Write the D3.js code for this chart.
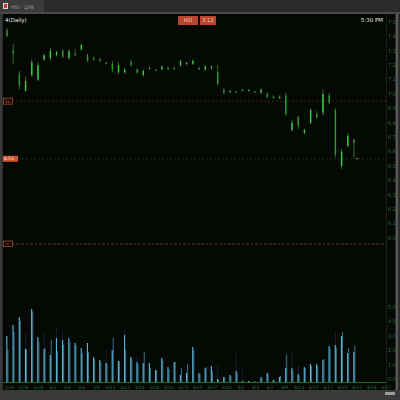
<!DOCTYPE html>
<html>
<head>
<meta charset="utf-8">
<script src="https://cdn.jsdelivr.net/npm/d3@7"></script>
<style>
  html, body { margin: 0; padding: 0; background: #2b2b2b; }
  svg { display: block; }
  text { font-family: "DejaVu Sans", sans-serif; }
</style>
</head>
<body>
<svg id="chart" width="400" height="400"></svg>
<script>
// Daily bars: open / high / low / close
const open  = [7.44,7.30,7.14,7.02,7.13,7.10,7.24,7.25,7.27,7.30,7.25,7.28,7.31,7.27,7.25,7.24,7.22,7.21,7.15,7.15,7.22,7.17,7.13,7.18,7.17,7.17,7.18,7.18,7.20,7.21,7.21,7.18,7.17,7.18,7.15,7.03,7.02,7.02,7.02,7.02,7.02,7.01,7.00,6.98,6.97,6.99,6.75,6.84,6.73,6.80,6.86,6.87,6.99,6.89,6.50,6.64,6.68];
const high  = [7.46,7.35,7.16,7.12,7.24,7.22,7.28,7.32,7.30,7.31,7.31,7.31,7.35,7.28,7.26,7.25,7.22,7.23,7.22,7.18,7.24,7.18,7.17,7.19,7.17,7.20,7.19,7.19,7.24,7.22,7.24,7.19,7.20,7.20,7.20,7.04,7.03,7.02,7.03,7.03,7.02,7.04,7.01,6.99,6.99,7.01,6.82,6.85,6.76,6.90,6.88,7.03,7.01,6.90,6.62,6.73,6.69];
const low   = [7.40,7.21,7.03,7.02,7.12,7.09,7.23,7.23,7.26,7.25,7.24,7.26,7.30,7.22,7.23,7.22,7.21,7.15,7.14,7.14,7.19,7.14,7.12,7.17,7.16,7.17,7.17,7.17,7.19,7.20,7.20,7.17,7.16,7.17,7.06,7.00,7.01,7.01,7.02,7.02,7.01,7.00,6.97,6.97,6.97,6.85,6.74,6.76,6.72,6.79,6.83,6.85,6.93,6.56,6.48,6.63,6.56];
const close = [7.40,7.28,7.06,7.09,7.22,7.20,7.27,7.30,7.29,7.26,7.30,7.27,7.34,7.23,7.24,7.23,7.21,7.17,7.20,7.17,7.20,7.15,7.16,7.18,7.16,7.19,7.18,7.17,7.23,7.22,7.23,7.17,7.19,7.19,7.07,7.01,7.02,7.01,7.03,7.03,7.01,7.03,6.98,6.98,6.98,6.86,6.80,6.78,6.75,6.89,6.84,7.00,6.94,6.58,6.60,6.71,6.66];

// Volume (three line series per day)
const volMain = [3.19,3.96,4.51,2.29,5.07,3.13,2.29,1.88,3.06,2.92,3.06,2.71,2.36,2.71,1.74,1.53,1.32,2.22,1.46,3.26,1.74,1.39,1.32,1.32,0.83,1.67,1.04,1.39,0.49,0.63,2.43,0.63,0.97,1.11,0.21,0.35,0.49,0.76,0.07,0.07,0.05,0.35,0.63,0.14,0.35,0.97,0.97,0.56,1.04,1.25,1.25,1.53,2.50,2.57,3.19,2.01,2.08];
const volSide = [2.22,3.47,4.24,2.29,4.90,2.78,2.36,2.92,2.15,2.60,2.85,2.57,2.01,2.08,1.60,1.40,1.25,3.06,1.46,2.22,1.60,1.25,2.08,0.97,0.83,1.50,0.90,1.39,0.97,1.25,2.20,0.55,1.04,0.76,0.15,0.35,0.40,0.60,0.05,0.05,0.03,0.30,0.55,0.10,0.42,1.88,0.80,0.45,0.95,1.11,1.11,1.60,2.30,2.40,3.47,2.36,2.50];
const volPeak = [0,0,0,3.40,0,0,3.40,0,3.75,3.61,0,0,0,0,0,0,2.22,0,0,3.82,0,1.74,0,0,0,0,0,0,0,0,0,0,0,0,1.18,0,0,2.01,0.90,0,0,0,0,0,0,2.22,2.22,1.18,0,1.53,0,0,2.71,3.47,0,0,2.71];

// Axis tick labels
const priceTicks = [7.5,7.4,7.3,7.2,7.1,7.0,6.9,6.8,6.7,6.6,6.5,6.4,6.3,6.2,6.1,6.0];
const volTicks = [0,1,2,3,4,5];
const dateLabels = ["2/24","2/26","2/28","3/2","3/4","3/6","3/9","3/11","3/13","3/16","3/18","3/20","3/23","3/25","3/27","3/30","4/1","4/3","4/7","4/9","4/13","4/15","4/17","4/20","4/22","4/24","4/27"];

// Reference levels
const lastPrice = 6.55;
const alertLevel = 6.95;

const svg = d3.select("#chart");
const W = 400, H = 400;
const plotL = 3, plotR = 386, plotT = 14, plotB = 390;
const priceBottom = 244, volBase = 382;

// frame
svg.append("rect").attr("width", W).attr("height", H).attr("fill", "#2b2b2b");
svg.append("rect").attr("x", 0).attr("y", 0).attr("width", 44).attr("height", 12).attr("fill", "#3b3b3b");
svg.append("rect").attr("x", 3).attr("y", 3).attr("width", 5).attr("height", 6).attr("fill", "#d8d8d8");
svg.append("rect").attr("x", 4).attr("y", 4).attr("width", 3).attr("height", 4).attr("fill", "#c0392b");
svg.append("text").attr("x", 11).attr("y", 8.5).attr("font-size", 5).attr("fill", "#9a9a9a").text("HSI · 日线");
svg.append("rect").attr("x", 0).attr("y", 12).attr("width", W).attr("height", 2).attr("fill", "#4a4a4a");

// plot background
svg.append("rect").attr("x", plotL).attr("y", plotT).attr("width", 395 - plotL).attr("height", plotB - plotT).attr("fill", "#040904");
svg.append("line").attr("x1", plotR + 0.5).attr("x2", plotR + 0.5).attr("y1", plotT).attr("y2", plotB).attr("stroke", "#1c1f1c");
svg.append("rect").attr("x", 396).attr("y", plotT).attr("width", 2).attr("height", plotB - plotT).attr("fill", "#5a5a5a");
svg.append("rect").attr("x", 0).attr("y", plotT).attr("width", 2).attr("height", plotB - plotT).attr("fill", "#3a3a3a");

// bottom bar and scroll thumb
svg.append("rect").attr("x", 0).attr("y", plotB).attr("width", W).attr("height", H - plotB).attr("fill", "#3a3a3a");
svg.append("rect").attr("x", 385).attr("y", 392).attr("width", 10).attr("height", 3).attr("fill", "#9c9c9c");

// scales
const n = close.length;
const x = d3.scaleLinear().domain([0, n - 1]).range([7, 354]);
const y = d3.scaleLinear().domain([7.5, 6.0]).range([22, 238]);
const yv = d3.scaleLinear().domain([0, 5]).range([volBase, volBase - 72]);
const xLab = d3.scaleLinear().domain([0, dateLabels.length - 1]).range([9, 386]);

// price axis labels
svg.append("g").selectAll("text").data(priceTicks).join("text")
  .attr("x", 388).attr("y", d => y(d)).attr("dy", "0.35em")
  .attr("font-size", 5).attr("fill", "#2f6e38").text(d => d.toFixed(1));

// volume axis labels
svg.append("g").selectAll("text").data(volTicks).join("text")
  .attr("x", 388).attr("y", d => yv(d) - 1)
  .attr("font-size", 5).attr("fill", "#2f6e38").text(d => d.toFixed(1));

// reference lines
svg.append("line").attr("x1", 12).attr("x2", plotR).attr("y1", y(alertLevel)).attr("y2", y(alertLevel))
  .attr("stroke", "#4a2216").attr("stroke-dasharray", "2,2");
svg.append("rect").attr("x", 3.5).attr("y", y(alertLevel) - 3).attr("width", 9).attr("height", 6)
  .attr("fill", "#1a0a05").attr("stroke", "#a04a30").attr("stroke-width", 0.8);
svg.append("text").attr("x", 5).attr("y", y(alertLevel)).attr("dy", "0.35em").attr("font-size", 4).attr("fill", "#e06040").text("1s");

svg.append("line").attr("x1", 18).attr("x2", plotR).attr("y1", y(lastPrice)).attr("y2", y(lastPrice))
  .attr("stroke", "#262626").attr("stroke-dasharray", "2,2");
svg.append("rect").attr("x", 3).attr("y", y(lastPrice) - 3).attr("width", 15).attr("height", 6).attr("fill", "#c9552d");
svg.append("text").attr("x", 4).attr("y", y(lastPrice)).attr("dy", "0.35em").attr("font-size", 4.5).attr("fill", "#ffe6d8").text(lastPrice.toFixed(2));
svg.append("rect").attr("x", x(n - 1) + 2).attr("y", y(lastPrice) - 0.5).attr("width", 2).attr("height", 1).attr("fill", "#e07a3a");

// panel divider
svg.append("line").attr("x1", 12).attr("x2", plotR).attr("y1", priceBottom).attr("y2", priceBottom)
  .attr("stroke", "#6b2e1e").attr("stroke-dasharray", "3,1.5");
svg.append("rect").attr("x", 3.5).attr("y", priceBottom - 3).attr("width", 9).attr("height", 5.5)
  .attr("fill", "#1a0a05").attr("stroke", "#a04a30").attr("stroke-width", 0.8);
svg.append("text").attr("x", 5.5).attr("y", priceBottom).attr("dy", "0.3em").attr("font-size", 4).attr("fill", "#c06040").text("=");

// candles: thin high-low line with a brighter open-close segment
const idx = d3.range(n);
const cg = svg.append("g");
cg.selectAll("line.wick").data(idx).join("line")
  .attr("x1", i => x(i)).attr("x2", i => x(i))
  .attr("y1", i => y(high[i])).attr("y2", i => y(low[i]))
  .attr("stroke", "#2e6e2c").attr("stroke-width", 1);
cg.selectAll("rect.body").data(idx).join("rect")
  .attr("x", i => x(i) - 0.7).attr("width", 1.4)
  .attr("y", i => y(Math.max(open[i], close[i])))
  .attr("height", i => Math.max(1, Math.abs(y(open[i]) - y(close[i]))))
  .attr("fill", i => close[i] >= open[i] ? "#3fcf3f" : "#2d9a30");

// volume
const vg = svg.append("g");
vg.selectAll("rect.peak").data(idx.filter(i => volPeak[i] > 0)).join("rect")
  .attr("x", i => x(i) - 0.5).attr("width", 1)
  .attr("y", i => yv(volPeak[i])).attr("height", i => volBase - yv(volPeak[i]))
  .attr("fill", "#10202c");
vg.selectAll("rect.side").data(idx).join("rect")
  .attr("x", i => x(i) + 0.4).attr("width", 1)
  .attr("y", i => yv(volSide[i])).attr("height", i => volBase - yv(volSide[i]))
  .attr("fill", "#3d7088");
vg.selectAll("rect.main").data(idx).join("rect")
  .attr("x", i => x(i) - 0.7).attr("width", 1.1)
  .attr("y", i => yv(volMain[i])).attr("height", i => volBase - yv(volMain[i]))
  .attr("fill", "#5ab8e0");

// x axis
svg.append("line").attr("x1", plotL).attr("x2", plotR).attr("y1", volBase + 0.5).attr("y2", volBase + 0.5)
  .attr("stroke", "#1f6b2a");
svg.append("g").selectAll("text").data(dateLabels).join("text")
  .attr("x", (d, i) => xLab(i)).attr("y", 388.5).attr("text-anchor", "middle")
  .attr("font-size", 4.5).attr("fill", "#2f6e38").text(d => d);

// header texts
svg.append("text").attr("x", 5).attr("y", 22).attr("font-size", 5.5).attr("fill", "#e8e8e8").text("4(Daily)");
svg.append("text").attr("x", 383).attr("y", 22).attr("text-anchor", "end").attr("font-size", 5.5).attr("fill", "#e8e8d8").text("5:30 PM");
svg.append("rect").attr("x", 178).attr("y", 16).attr("width", 20).attr("height", 9).attr("fill", "#b8452c");
svg.append("text").attr("x", 188).attr("y", 20.5).attr("dy", "0.35em").attr("text-anchor", "middle").attr("font-size", 5).attr("fill", "#f2c9b8").text("HSI");
svg.append("rect").attr("x", 200).attr("y", 16).attr("width", 16).attr("height", 9).attr("fill", "#b8452c");
svg.append("text").attr("x", 208).attr("y", 20.5).attr("dy", "0.35em").attr("text-anchor", "middle").attr("font-size", 5).attr("fill", "#f2c9b8").text("5:12");
</script>
</body>
</html>
